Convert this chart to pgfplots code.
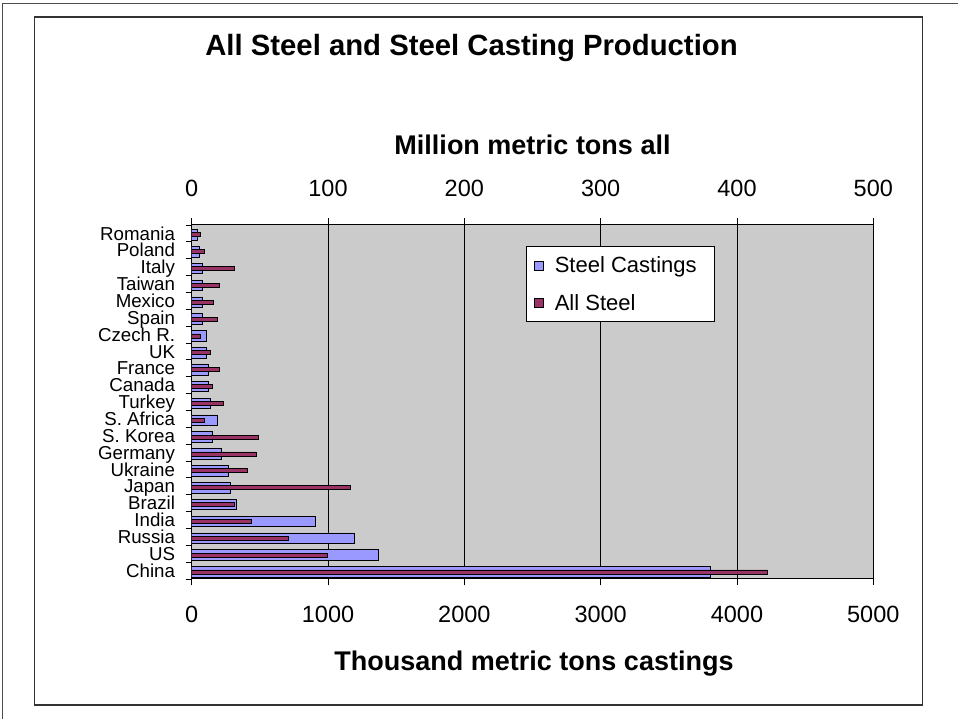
\documentclass[border=0pt]{standalone}
\usepackage{fontspec}
\setmainfont{Liberation Sans}
\usepackage{pgfplots}
\usepackage{pgfplotstable}
\pgfplotsset{compat=1.18}
\pgfplotsset{sqlegend/.style={legend image code/.code={\draw[##1] (0pt,-4.5pt) rectangle (9pt,4.5pt); \path (18pt,0pt);}}}
\definecolor{castc}{HTML}{9999FF}
\definecolor{allc}{HTML}{993366}
\definecolor{plotbg}{HTML}{CBCBCB}
\pgfplotstableread{
idx cast all
0 3804 422.4
1 1371 99.2
2 1193 70.9
3 909 43.5
4 325 31.3
5 283 116.6
6 269 40.6
7 215 47.4
8 149 48.6
9 188 9.0
10 134 23.0
11 120 14.9
12 120 20.0
13 105 13.4
14 105 6.6
15 81 18.8
16 81 16.1
17 81 20.3
18 81 31.0
19 54 9.3
20 39 6.6
}\steeldata
\begin{document}
\begin{tikzpicture}[x=1pt,y=1pt]
\useasboundingbox (0,0) rectangle (958,719);
\draw[line width=0.8pt, black!70] (2,0) -- (2,716) -- (958,716);
\draw[line width=1.4pt, black!80] (34.5,14) rectangle (922.5,702);
\node[font=\bfseries\fontsize{29.3}{34}\selectfont, anchor=base] at (471.5,663) {All Steel and Steel Casting Production};
\node[font=\bfseries\fontsize{27}{32}\selectfont, anchor=base] at (532.5,564) {Million metric tons all};
\node[font=\bfseries\fontsize{27}{32}\selectfont, anchor=base] at (534,48) {Thousand metric tons castings};
\begin{axis}[at={(191.7pt,140pt)}, anchor=south west, width=681.6pt, height=354pt, scale only axis,
  xmin=0, xmax=5000, ymin=-0.5, ymax=20.5,
  axis lines*=left,
  axis background/.style={fill=plotbg, draw=black!55, line width=1pt},
  axis line style={black, line width=1pt},
  xtick={0,1000,...,5000},
  xmajorgrids, grid style={black, line width=0.8pt},
  ytick={0,...,20},
  yticklabels={China,US,Russia,India,Brazil,Japan,Ukraine,Germany,S. Korea,S. Africa,Turkey,Canada,France,UK,Czech R.,Spain,Mexico,Taiwan,Italy,Poland,Romania},
  minor ytick={-0.5,0.5,...,20.5},
  tick align=outside, major tick length=6.5pt, minor tick length=6pt,
  major y tick style={draw=none},
  minor y tick style={black, line width=0.8pt},
  x tick style={black, line width=0.8pt},
  /pgf/number format/assume math mode=true,
  scaled x ticks=false,
  xticklabel style={font=\fontsize{23.5}{26}\selectfont, anchor=base, yshift=-37.5pt, /pgf/number format/1000 sep={}},
  yticklabel style={font=\fontsize{18.7}{19}\selectfont, anchor=base east, inner sep=0pt, xshift=-10pt, yshift=-6.6pt},
]
\addplot[xbar, fill=castc, draw=black, line width=0.7pt, bar width=0.63, bar shift=-0.08] table[x=cast, y=idx] {\steeldata};
\end{axis}
\begin{axis}[at={(191.7pt,140pt)}, anchor=south west, width=681.6pt, height=354pt, scale only axis,
  xmin=0, xmax=500, ymin=-0.5, ymax=20.5,
  axis x line*=top, axis y line=none,
  axis line style={black, line width=1pt},
  xtick={0,100,...,500},
  tick align=outside, major tick length=6.5pt,
  x tick style={black, line width=0.8pt},
  /pgf/number format/assume math mode=true,
  xticklabel style={font=\fontsize{23.5}{26}\selectfont, anchor=base, yshift=21.5pt},
  legend style={at={(0.49,0.94)}, anchor=north west, draw=black, line width=0.8pt, fill=white,
    font=\fontsize{22}{26}\selectfont, row sep=16pt, inner xsep=8pt, inner ysep=8pt},
  legend cell align=left,
]
\addlegendimage{fill=castc, draw=black, line width=0.7pt, sqlegend}
\addplot[xbar, fill=allc, draw=black, line width=0.7pt, bar width=0.24, bar shift=-0.08, sqlegend] table[x=all, y=idx] {\steeldata};
\legend{Steel Castings\hspace*{8pt}, All Steel}
\end{axis}
\end{tikzpicture}
\end{document}
